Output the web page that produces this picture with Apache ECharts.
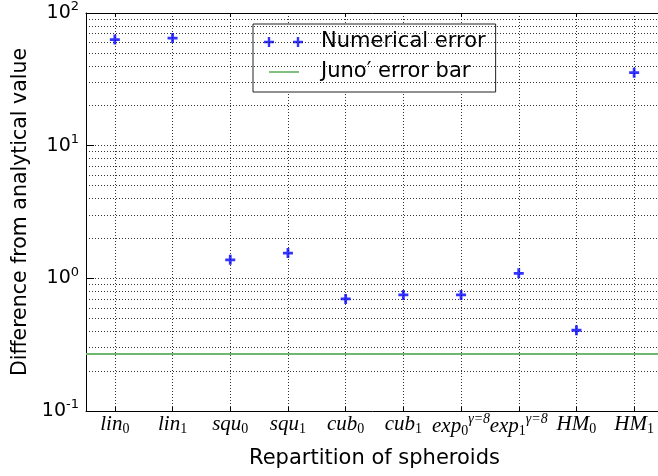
<!DOCTYPE html>
<html>
<head>
<meta charset="utf-8">
<script src="https://cdn.jsdelivr.net/npm/echarts@6/dist/echarts.min.js"></script>
<style>html,body{margin:0;padding:0;background:#fff}#c{width:658px;height:476px}</style>
</head>
<body>
<div id="c"></div>
<script>
// ---- data ----
const catBase = ['lin', 'lin', 'squ', 'squ', 'cub', 'cub', 'exp', 'exp', 'HM', 'HM'];
const catSub  = ['0', '1', '0', '1', '0', '1', '0', '1', '0', '1'];
const catSup  = ['', '', '', '', '', '', 'γ=8', 'γ=8', '', ''];
const categories = catBase.map((b, i) => b + '_' + catSub[i] + (catSup[i] ? '^' + catSup[i] : ''));
const numericalError = [63, 64.7, 1.38, 1.55, 0.70, 0.75, 0.75, 1.09, 0.406, 35.5];
const junoErrorBar = 0.267;
const yMin = 0.1, yMax = 100;
const minorGridValues = [0.2,0.3,0.4,0.5,0.6,0.7,0.8,0.9, 2,3,4,5,6,7,8,9, 20,30,40,50,60,70,80,90];

const gridStyle = { color: '#000', width: 1, type: [1, 2], opacity: 0.8 };
const plusPath = 'path://M0,3.6H10V6.4H0Z M3.6,0H6.4V10H3.6Z';
const legendPlus = 'path://M0,3.8H10V6.2H0Z M3.8,0H6.2V10H3.8Z M29,3.8H39V6.2H29Z M32.8,0H35.2V10H32.8Z';
const legendLine = 'path://M5,4.5H35V5.6H5Z M0,0H0.01V0.01H0Z M38.99,9.99H39V10H38.99Z';

const chart = echarts.init(document.getElementById('c'), null, { renderer: 'canvas' });
chart.setOption({
  backgroundColor: '#fff',
  animation: false,
  grid: { left: 86, right: -5, top: 13, bottom: 65, containLabel: false, outerBoundsMode: 'none' },
  legend: {
    left: 253, top: 24, orient: 'vertical',
    backgroundColor: '#fff', borderColor: '#222', borderWidth: 1,
    padding: [6, 10, 8, 11],
    itemWidth: 39, itemHeight: 10, itemGap: 6,
    textStyle: { fontFamily: 'DejaVu Sans', fontSize: 21, lineHeight: 24, color: '#000', padding: [0, 0, 0, 13] },
    data: [
      { name: 'Numerical error', icon: legendPlus, itemStyle: { color: '#0000ff' } },
      { name: 'Juno′ error bar', icon: legendLine, itemStyle: { color: '#008000' } }
    ]
  },
  xAxis: [{
    type: 'category', data: categories, position: 'bottom',
    name: 'Repartition of spheroids', nameLocation: 'middle', nameGap: 37,
    nameTextStyle: { fontFamily: 'DejaVu Sans', fontSize: 21, color: '#000' },
    axisLine: { show: true, lineStyle: { color: '#000', width: 1 } },
    axisTick: { show: true, inside: true, alignWithLabel: true, length: 4, lineStyle: { color: '#000' } },
    splitLine: { show: true, alignWithLabel: true, lineStyle: gridStyle },
    axisLabel: {
      interval: 0, margin: 1,
      formatter: (v, i) => '{b|' + catBase[i] + '}{s|' + catSub[i] + '}' + (catSup[i] ? '{p|' + catSup[i] + '}' : ''),
      rich: {
        b: { fontFamily: 'Liberation Serif', fontStyle: 'italic', fontSize: 21, color: '#000', lineHeight: 22 },
        s: { fontFamily: 'Liberation Serif', fontSize: 14, color: '#000', padding: [10, 0, 0, 0] },
        p: { fontFamily: 'Liberation Serif', fontStyle: 'italic', fontSize: 14, color: '#000', padding: [0, 0, 14, 0] }
      }
    }
  }, {
    type: 'category', data: categories, position: 'top',
    axisLine: { show: true, lineStyle: { color: '#000', width: 1 } },
    axisTick: { show: true, inside: true, alignWithLabel: true, length: 4, lineStyle: { color: '#000' } },
    axisLabel: { show: false }, splitLine: { show: false }
  }],
  yAxis: {
    type: 'log', logBase: 10, min: yMin, max: yMax,
    name: 'Difference from analytical value', nameLocation: 'middle', nameGap: 51,
    nameTextStyle: { fontFamily: 'DejaVu Sans', fontSize: 20.5, color: '#000' },
    axisLine: { show: true, lineStyle: { color: '#000', width: 1 } },
    axisTick: { show: true, inside: true, length: 8, lineStyle: { color: '#000' } },
    splitLine: { show: true, lineStyle: gridStyle },
    axisLabel: {
      margin: 7,
      formatter: v => '{b|10}{s|' + Math.round(Math.log10(v)) + '}',
      rich: {
        b: { fontFamily: 'DejaVu Sans', fontSize: 19, color: '#000' },
        s: { fontFamily: 'DejaVu Sans', fontSize: 13, color: '#000', padding: [0, 0, 12, 0] }
      }
    }
  },
  series: [{
    name: 'Numerical error', type: 'scatter',
    data: numericalError,
    symbol: plusPath, symbolSize: 10,
    itemStyle: { color: '#0000ff' },
    z: 5
  }, {
    name: 'Juno′ error bar', type: 'line',
    data: [],
    showSymbol: false, symbol: 'none',
    lineStyle: { color: '#008000', width: 1 },
    itemStyle: { color: '#008000' },
    markLine: {
      silent: true, symbol: 'none', label: { show: false },
      lineStyle: { color: '#6fb86f', width: 2, type: 'solid' },
      data: [{ yAxis: junoErrorBar }]
    }
  }, {
    name: 'minor-grid', type: 'line', data: [], symbol: 'none', silent: true,
    markLine: {
      silent: true, symbol: 'none', label: { show: false },
      lineStyle: gridStyle, emphasis: { disabled: true },
      data: minorGridValues.map(v => ({ yAxis: v }))
    },
    z: 1
  }]
});
</script>
</body>
</html>
